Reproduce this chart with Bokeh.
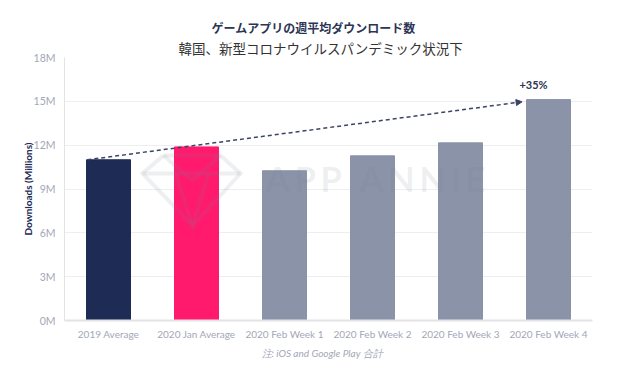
from bokeh.plotting import figure
from bokeh.models import (ColumnDataSource, FixedTicker, Label, Arrow, NormalHead,
                          Range1d, Title)
from bokeh.embed import file_html
from bokeh.resources import INLINE

categories = ["2019 Average", "2020 Jan Average", "2020 Feb Week 1",
              "2020 Feb Week 2", "2020 Feb Week 3", "2020 Feb Week 4"]
downloads = [11.0, 11.88, 10.25, 11.27, 12.16, 15.12]
bar_colors = ["#1e2b55", "#ff1a6e", "#8a93a8", "#8a93a8", "#8a93a8", "#8a93a8"]
y_ticks = [0, 3, 6, 9, 12, 15, 18]
y_tick_labels = ["0M", "3M", "6M", "9M", "12M", "15M", "18M"]
growth_label = "+35%"
title_text = "ゲームアプリの週平均ダウンロード数"
subtitle_text = "韓国、新型コロナウイルスパンデミック状況下"
note_text = "注: iOS and Google Play 合計"
watermark_text = "\u2009".join("APP ANNIE")

src = ColumnDataSource(dict(cat=categories, val=downloads, color=bar_colors))

FL, FR, FT, FB = 64, 592, 57, 320

p = figure(x_range=categories, y_range=Range1d(0, 18), width=623, height=376,
           output_backend="svg", toolbar_location=None,
           min_border_left=FL, min_border_right=623 - FR, min_border_top=FT,
           min_border_bottom=376 - FB)
p.outline_line_color = None
p.background_fill_color = "white"
p.border_fill_color = "white"


# pixel -> data helpers for decorative watermark placement
def px(xp):
    return (xp - FL) / ((FR - FL) / len(categories))


def py(yp):
    return (FB - yp) / (FB - FT) * 18


gem_xs = [[px(v) for v in seg] for seg in
          [[163, 220, 240, 192, 142, 163], [163, 192, 220], [142, 240], [175, 192, 208]]]
gem_ys = [[py(v) for v in seg] for seg in
          [[155, 155, 173, 225, 173, 155], [155, 180, 155], [173, 173], [173, 225, 173]]]

p.vbar(x="cat", top="val", width=0.5, color="color", source=src)

p.multi_line(gem_xs, gem_ys, line_color="#7a8094", line_alpha=0.13, line_width=4,
             line_join="miter")

# axes
p.yaxis.ticker = FixedTicker(ticks=y_ticks)
p.yaxis.major_label_overrides = {t: l for t, l in zip(y_ticks, y_tick_labels)}
p.yaxis.axis_line_color = "#e3e3e6"
p.yaxis.major_tick_line_color = None
p.yaxis.minor_tick_line_color = None
p.yaxis.major_label_text_color = "#a2a7b6"
p.yaxis.major_label_text_font = "Lato"
p.yaxis.major_label_text_font_size = "10.5px"
p.yaxis.major_label_standoff = 3
p.yaxis.axis_label = "Downloads (Millions)"
p.yaxis.axis_label_text_font = "Lato"
p.yaxis.axis_label_text_font_style = "bold"
p.yaxis.axis_label_text_font_size = "10px"
p.yaxis.axis_label_text_color = "#1e2b55"
p.yaxis.axis_label_standoff = -3

p.xaxis.axis_line_color = "#e3e3e6"
p.xaxis.axis_line_width = 2
p.xaxis.major_tick_line_color = None
p.xaxis.minor_tick_line_color = None
p.xaxis.major_label_text_color = "#a2a7b6"
p.xaxis.major_label_text_font = "Lato"
p.xaxis.major_label_text_font_size = "10px"
p.xaxis.major_label_standoff = 1

p.xgrid.grid_line_color = None
p.ygrid.grid_line_color = "#eeeef1"
p.ygrid.ticker = FixedTicker(ticks=y_ticks)

# watermark text
p.add_layout(Label(x=px(265), y=py(177.5), text=watermark_text, text_font="Lato",
                   text_font_style="bold", text_font_size="35px", text_color="#7a8094",
                   text_alpha=0.13, text_baseline="middle"))

# trend arrow
p.add_layout(Arrow(x_start=0.26, y_start=downloads[0], x_end=5.2, y_end=downloads[-1] - 0.15,
                   line_color="#3b4466", line_width=1.5, line_dash="4 3",
                   end=NormalHead(size=6, fill_color="#3b4466", line_color="#3b4466")))
p.add_layout(Label(x=5.33, y=downloads[-1] + 1.05, text=growth_label, text_font="Lato",
                   text_font_style="bold", text_font_size="11px", text_color="#2c3553",
                   text_align="center", text_baseline="middle"))

# titles
p.title.text = title_text
p.title.text_font = "Noto Sans CJK JP"
p.title.text_font_style = "bold"
p.title.text_font_size = "12px"
p.title.text_color = "#2c3553"
p.title.align = "left"
p.title.offset = 147
p.title.standoff = 0

p.add_layout(Title(text=subtitle_text, text_font="Noto Sans CJK JP",
                   text_font_style="normal", text_font_size="13.5px", text_color="#333333",
                   align="left", offset=114, standoff=0), "above")

p.add_layout(Title(text=note_text, text_font="Lato", text_font_style="italic",
                   text_font_size="10px", text_color="#a2a7b6", align="left",
                   offset=197, standoff=5), "below")

open("out.html", "w").write(file_html(p, INLINE))
